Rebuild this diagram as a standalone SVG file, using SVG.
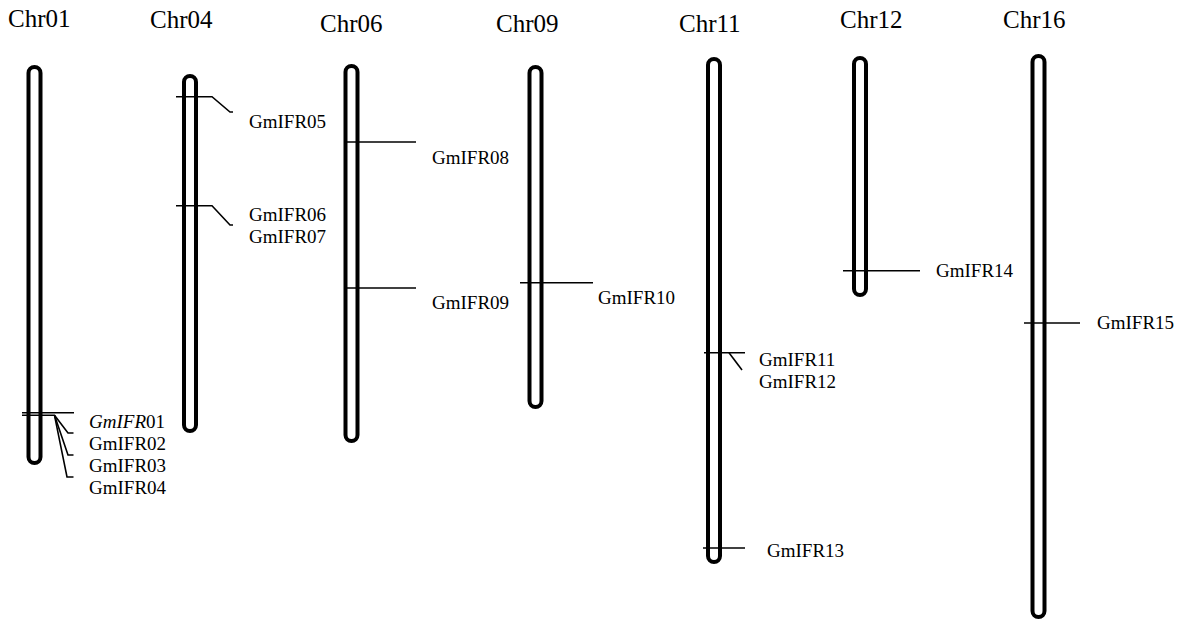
<svg xmlns="http://www.w3.org/2000/svg" width="1190" height="621" viewBox="0 0 1190 621">
  <style>
    .title { font-family: "Liberation Serif", "Times New Roman", serif; font-size: 25px; fill: #000; }
    .gene { font-family: "Liberation Serif", "Times New Roman", serif; font-size: 19px; fill: #000; }
    .rod { fill: #fff; stroke: #000; stroke-width: 4; }
    .mark { fill: none; stroke: #000; stroke-width: 1.6; }
  </style>
  <rect width="1190" height="621" fill="#fff"/>

  <!-- Chromosome rods with their titles -->
  <g id="chr01">
    <text class="title" x="8" y="27">Chr01</text>
    <rect class="rod" x="28.5" y="67" width="12" height="396" rx="6"/>
  </g>
  <g id="chr04">
    <text class="title" x="150" y="28">Chr04</text>
    <rect class="rod" x="184" y="76" width="12" height="355" rx="6"/>
  </g>
  <g id="chr06">
    <text class="title" x="320" y="32">Chr06</text>
    <rect class="rod" x="345.5" y="66" width="12" height="375" rx="6"/>
  </g>
  <g id="chr09">
    <text class="title" x="496" y="32">Chr09</text>
    <rect class="rod" x="529.5" y="67" width="12" height="340" rx="6"/>
  </g>
  <g id="chr11">
    <text class="title" x="679" y="32">Chr11</text>
    <rect class="rod" x="708" y="59" width="12" height="503" rx="6"/>
  </g>
  <g id="chr12">
    <text class="title" x="840" y="28">Chr12</text>
    <rect class="rod" x="854" y="58" width="12" height="237" rx="6"/>
  </g>
  <g id="chr16">
    <text class="title" x="1003" y="28">Chr16</text>
    <rect class="rod" x="1032.5" y="56" width="12" height="561" rx="6"/>
  </g>

  <!-- Gene position markers and leader lines -->
  <g id="connectors">
    <!-- Chr01 -->
    <line class="mark" x1="22" y1="412.7" x2="74" y2="412.7"/>
    <line class="mark" x1="22" y1="415.3" x2="55" y2="415.3"/>
    <polyline class="mark" points="54.5,415.3 68,433 73.5,433"/>
    <polyline class="mark" points="54.5,415.3 68,455 73.5,455"/>
    <polyline class="mark" points="54.5,415.3 67,477 73.5,477"/>
    <!-- Chr04 -->
    <polyline class="mark" points="176,96.7 212,96.7 230,112 233,112"/>
    <polyline class="mark" points="176,205.7 212,205.7 230,225 233,225"/>
    <!-- Chr06 -->
    <line class="mark" x1="345" y1="142" x2="416" y2="142"/>
    <line class="mark" x1="345" y1="288" x2="416" y2="288"/>
    <!-- Chr09 -->
    <line class="mark" x1="520" y1="282.7" x2="593" y2="282.7"/>
    <!-- Chr11 -->
    <line class="mark" x1="704" y1="352.7" x2="745" y2="352.7"/>
    <line class="mark" x1="729" y1="352.7" x2="742" y2="370"/>
    <line class="mark" x1="703" y1="548" x2="745" y2="548"/>
    <!-- Chr12 -->
    <line class="mark" x1="843" y1="270.7" x2="920" y2="270.7"/>
    <!-- Chr16 -->
    <line class="mark" x1="1024" y1="323" x2="1080" y2="323"/>
  </g>

  <!-- Gene labels -->
  <g id="labels">
    <text class="gene" x="89" y="428.3"><tspan font-style="italic">GmIFR</tspan>01</text>
    <text class="gene" x="89" y="450.3">GmIFR02</text>
    <text class="gene" x="89" y="472.3">GmIFR03</text>
    <text class="gene" x="89" y="494.3">GmIFR04</text>
    <text class="gene" x="249" y="128.3">GmIFR05</text>
    <text class="gene" x="249" y="221.3">GmIFR06</text>
    <text class="gene" x="249" y="243.3">GmIFR07</text>
    <text class="gene" x="432" y="164.3">GmIFR08</text>
    <text class="gene" x="432" y="309.3">GmIFR09</text>
    <text class="gene" x="598" y="304.3">GmIFR10</text>
    <text class="gene" x="759" y="366">GmIFR11</text>
    <text class="gene" x="759" y="388">GmIFR12</text>
    <text class="gene" x="767" y="557.3">GmIFR13</text>
    <text class="gene" x="936" y="277.3">GmIFR14</text>
    <text class="gene" x="1097" y="329.3">GmIFR15</text>
  </g>
</svg>
